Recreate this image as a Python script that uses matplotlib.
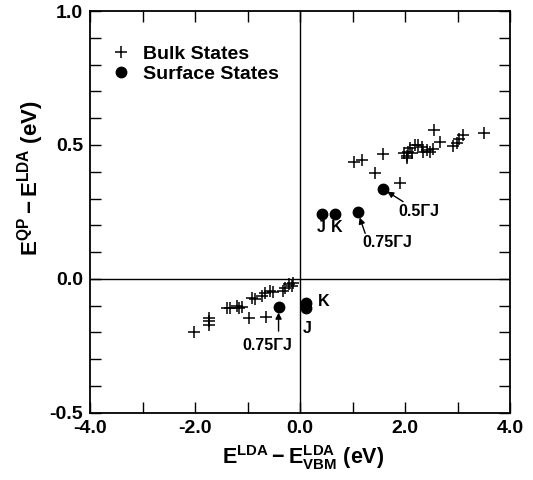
import matplotlib
matplotlib.use("Agg")
import matplotlib.pyplot as plt
from matplotlib.ticker import MultipleLocator

plt.rcParams['font.family'] = ['Liberation Sans', 'DejaVu Sans']
plt.rcParams['font.weight'] = 'bold'
plt.rcParams['mathtext.fontset'] = 'custom'
plt.rcParams['mathtext.rm'] = 'Liberation Sans:bold'
plt.rcParams['mathtext.bf'] = 'Liberation Sans:bold'
plt.rcParams['mathtext.it'] = 'Liberation Sans:bold'

# Bulk states (x: E_LDA - E_VBM, y: E_QP - E_LDA)
bulk_x = [1.02, 1.18, 1.57, 1.43, 1.90, 2.55, 2.67,
          1.97, 2.03, 2.04, 2.06, 2.10, 2.13, 2.19, 2.25, 2.32, 2.35, 2.41, 2.48, 2.54,
          2.92, 2.98, 3.03, 3.10, 3.51,
          -2.03, -1.73, -1.73, -1.73, -1.40, -1.33, -1.21, -1.16, -1.11, -0.97,
          -0.92, -0.86, -0.73, -0.67, -0.57, -0.51, -0.65, -0.32, -0.29, -0.22, -0.16, -0.13]
bulk_y = [0.435, 0.444, 0.465, 0.396, 0.358, 0.554, 0.51,
          0.469, 0.459, 0.45, 0.475, 0.488, 0.469, 0.50, 0.50, 0.491, 0.475, 0.481, 0.475, 0.484,
          0.496, 0.509, 0.521, 0.538, 0.544,
          -0.199, -0.145, -0.158, -0.174, -0.108, -0.108, -0.102, -0.108, -0.104, -0.145,
          -0.07, -0.076, -0.064, -0.051, -0.045, -0.048, -0.142, -0.045, -0.033, -0.02, -0.026, -0.014]

# Surface states
surf_x = [0.41, 0.67, 1.10, 1.57, -0.41, 0.12, 0.12]
surf_y = [0.243, 0.243, 0.249, 0.337, -0.105, -0.089, -0.108]

xticks = [-4.0, -2.0, 0.0, 2.0, 4.0]
yticks = [-0.5, 0.0, 0.5, 1.0]

fig = plt.figure(figsize=(5.33, 4.8), dpi=100)
ax = fig.add_axes([0.169, 0.140, 0.788, 0.837])

ax.axhline(0, color='black', lw=1.0, zorder=1)
ax.axvline(0, color='black', lw=1.0, zorder=1)

ax.plot(bulk_x, bulk_y, linestyle='none', marker='+', markersize=9,
        markeredgewidth=1.1, color='black', label='Bulk States')
ax.plot(surf_x, surf_y, linestyle='none', marker='o', markersize=7.5,
        color='black', label='Surface States')

fs_lab = 11.5
ax.text(0.41, 0.19, 'J', ha='center', va='center', fontsize=fs_lab, fontweight='bold')
ax.text(0.69, 0.19, 'K', ha='center', va='center', fontsize=fs_lab, fontweight='bold')
ax.text(0.33, -0.085, 'K', ha='left', va='center', fontsize=fs_lab, fontweight='bold')
ax.text(0.13, -0.185, 'J', ha='center', va='center', fontsize=fs_lab, fontweight='bold')

arrowprops = dict(arrowstyle='-|>', color='black', lw=1.0, mutation_scale=9, shrinkA=0, shrinkB=4)
ax.annotate('0.5ΓJ', xy=(1.57, 0.337), xytext=(1.88, 0.25), ha='left', va='center',
            fontsize=fs_lab, fontweight='bold', arrowprops=arrowprops)
ax.annotate('', xy=(1.10, 0.249), xytext=(1.24, 0.17), arrowprops=arrowprops)
ax.text(1.19, 0.135, '0.75ΓJ', ha='left', va='center', fontsize=fs_lab, fontweight='bold')
ax.annotate('', xy=(-0.41, -0.105), xytext=(-0.41, -0.195), arrowprops=arrowprops)
ax.text(-0.62, -0.25, '0.75ΓJ', ha='center', va='center', fontsize=fs_lab, fontweight='bold')

ax.set_xlim(-4, 4)
ax.set_ylim(-0.5, 1.0)
ax.set_xticks(xticks)
ax.set_yticks(yticks)
ax.set_xticklabels(['%.1f' % v for v in xticks])
ax.set_yticklabels(['%.1f' % v for v in yticks])
ax.xaxis.set_minor_locator(MultipleLocator(1.0))
ax.yaxis.set_minor_locator(MultipleLocator(0.1))
ax.tick_params(which='both', direction='in', top=True, right=True, length=8, width=1.0)
ax.tick_params(which='major', labelsize=14, pad=5)
for lbl in ax.get_xticklabels() + ax.get_yticklabels():
    lbl.set_fontweight('bold')
for s in ax.spines.values():
    s.set_linewidth(1.3)

ax.set_xlabel(r'$\mathbf{E^{LDA} - E^{LDA}_{VBM}}$ (eV)', fontsize=15.5, fontweight='bold')
ax.set_ylabel(r'$\mathbf{E^{QP}- E^{LDA}}$ (eV)', fontsize=16, fontweight='bold')
ax.xaxis.set_label_coords(0.507, -0.075)
ax.yaxis.set_label_coords(-0.105, 0.585)

leg = ax.legend(loc='upper left', bbox_to_anchor=(0.01, 0.958), frameon=False,
                handlelength=0.9, handletextpad=0.7, labelspacing=0.1,
                prop={'weight': 'bold', 'size': 14})

fig.savefig('out.png', dpi=100)
